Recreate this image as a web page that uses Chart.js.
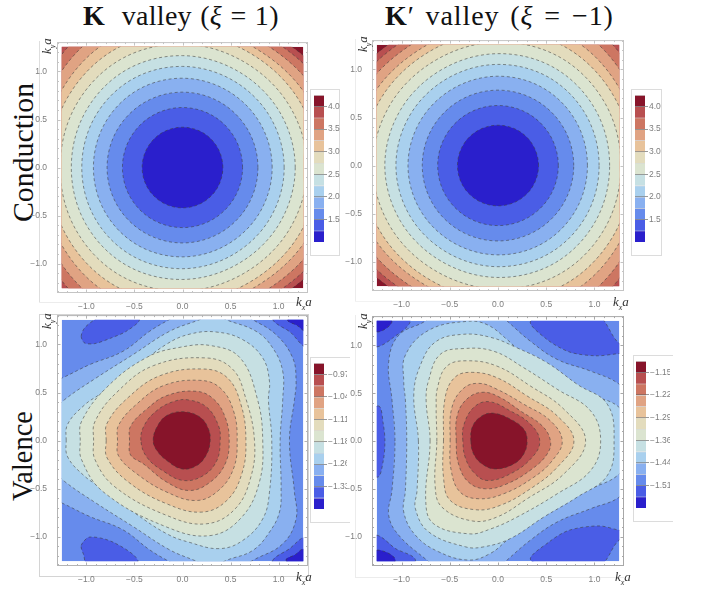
<!DOCTYPE html>
<html>
<head>
<meta charset="utf-8">
<style>
html, body { margin: 0; padding: 0; background: #fff; }
#page { position: relative; width: 705px; height: 589px; overflow: hidden; background: #fff; }
#page canvas { position: absolute; filter: blur(0.4px); }
.title { position: absolute; font-family: "Liberation Serif", serif; font-size: 28px; color: #111; white-space: nowrap; line-height: 30px; }
.side { position: absolute; font-family: "Liberation Serif", serif; color: #111; white-space: nowrap; line-height: 30px; transform-origin: 0 0; transform: rotate(-90deg); }
.axis { position: absolute; font-family: "Liberation Serif", serif; font-style: italic; font-size: 13px; color: #333; white-space: nowrap; line-height: 12px; }
.axis sub { font-size: 8px; line-height: 0; }
.rotated { transform-origin: 0 0; transform: rotate(-90deg); }
.edge { position: absolute; }
.box { position: absolute; border: 1px solid #dcdcdc; box-sizing: border-box; }
</style>
</head>
<body>
<div id="page">
  <div class="title" style="left:83px;top:1px;letter-spacing:0.3px;word-spacing:1px"><b>K</b>&nbsp; valley (<i>ξ</i> = 1)</div>
  <div class="title" style="left:385px;top:1px;letter-spacing:0.9px;word-spacing:3px"><b>K</b>′ valley (<i>ξ</i> = −1)</div>
  <div class="side" style="left:8px;top:222px;font-size:29.8px">Conduction</div>
  <div class="side" style="left:8px;top:501px;font-size:28.4px">Valence</div>

  <div class="edge" style="left:39px;top:41px;width:1px;height:262px;background:#dedede"></div>
  <div class="edge" style="left:39px;top:302px;width:262px;height:1px;background:#ececec"></div>
  <div class="edge" style="left:355px;top:39px;width:1px;height:262px;background:#ececec"></div>
  <div class="edge" style="left:355px;top:301px;width:262px;height:1px;background:#f2f2f2"></div>
  <div class="edge" style="left:39px;top:314px;width:270px;height:263px;border:1px solid #d4d4d4;box-sizing:border-box"></div>
  <div class="edge" style="left:355px;top:315px;width:1px;height:262px;background:#ececec"></div>
  <div class="edge" style="left:355px;top:577px;width:269px;height:1px;background:#ececec"></div>

  <div class="box" style="left:310px;top:89px;width:30px;height:167px"></div>
  <div class="box" style="left:631px;top:89px;width:31px;height:167px"></div>
  <div class="box" style="left:310px;top:357px;width:40px;height:166px;border-right:0"></div>
  <div class="box" style="left:633px;top:355px;width:40px;height:167px;border-right:0"></div>

  <canvas id="condK" style="left:17px;top:35px" width="299" height="278"></canvas>
  <canvas id="condKp" style="left:332px;top:33px" width="300" height="278"></canvas>
  <canvas id="valK" style="left:17px;top:308px" width="299" height="278"></canvas>
  <canvas id="valKp" style="left:332px;top:309px" width="300" height="277"></canvas>

  <canvas id="barCondK" style="left:310px;top:89px" width="30" height="167"></canvas>
  <canvas id="barCondKp" style="left:631px;top:89px" width="31" height="167"></canvas>
  <canvas id="barValK" style="left:310px;top:357px" width="37" height="166"></canvas>
  <canvas id="barValKp" style="left:633px;top:355px" width="37" height="167"></canvas>

  <div class="axis" style="left:296px;top:296px">k<sub>x</sub>a</div>
  <div class="axis" style="left:613px;top:296px">k<sub>x</sub>a</div>
  <div class="axis" style="left:296px;top:571px">k<sub>x</sub>a</div>
  <div class="axis" style="left:615px;top:571px">k<sub>x</sub>a</div>
  <div class="axis rotated" style="left:41px;top:54px">k<sub>y</sub>a</div>
  <div class="axis rotated" style="left:357px;top:52px">k<sub>y</sub>a</div>
  <div class="axis rotated" style="left:41px;top:329px">k<sub>y</sub>a</div>
  <div class="axis rotated" style="left:357px;top:329px">k<sub>y</sub>a</div>
</div>

<script src="https://cdn.jsdelivr.net/npm/chart.js@4/dist/chart.umd.js"></script>
<script>
// colour bands, from the top of the colour bar down to the bottom
const bandColors = ['#87142a', '#b84f50', '#cd7662', '#e0a383', '#e8c39b', '#e3dcbd', '#dbe4d0',
    '#c6e0e3', '#a9d0ee', '#89b0f0', '#668bec', '#4a5de6', '#2a1fcc'];

const axisRange = 1.306;
const dataEdge = 1.257;
const majorTicks = [-1, -0.5, 0, 0.5, 1];
const majorLabels = ['−1.0', '−0.5', '0.0', '0.5', '1.0'];
const minorTicks = [-1.3, -1.2, -1.1, -0.9, -0.8, -0.7, -0.6, -0.4, -0.3, -0.2, -0.1,
    0.1, 0.2, 0.3, 0.4, 0.6, 0.7, 0.8, 0.9, 1.1, 1.2, 1.3];

// conduction band: contour radius at each angle, innermost contour first
const angleDeg = [0, 30, 60, 90, 120, 150, 180, 210, 240, 270, 300, 330];
const condKRadii = [
    [0.42, 0.42, 0.42, 0.42, 0.42, 0.42, 0.42, 0.42, 0.42, 0.42, 0.42, 0.42],
    [0.625, 0.625, 0.625, 0.625, 0.625, 0.625, 0.625, 0.625, 0.625, 0.625, 0.625, 0.625],
    [0.785, 0.785, 0.785, 0.785, 0.785, 0.785, 0.785, 0.785, 0.785, 0.785, 0.785, 0.785],
    [0.933, 0.93, 0.927, 0.93, 0.933, 0.93, 0.927, 0.93, 0.933, 0.93, 0.927, 0.93],
    [1.058, 1.053, 1.048, 1.053, 1.058, 1.053, 1.048, 1.053, 1.058, 1.053, 1.048, 1.053],
    [1.173, 1.165, 1.157, 1.165, 1.173, 1.165, 1.157, 1.165, 1.173, 1.165, 1.157, 1.165],
    [1.297, 1.285, 1.273, 1.285, 1.297, 1.285, 1.273, 1.285, 1.297, 1.285, 1.273, 1.285],
    [1.417, 1.4, 1.383, 1.4, 1.417, 1.4, 1.383, 1.4, 1.417, 1.4, 1.383, 1.4],
    [1.525, 1.49, 1.455, 1.49, 1.525, 1.49, 1.455, 1.49, 1.525, 1.49, 1.455, 1.49],
    [1.644, 1.594, 1.544, 1.594, 1.644, 1.594, 1.544, 1.594, 1.644, 1.594, 1.544, 1.594],
    [1.755, 1.688, 1.621, 1.688, 1.755, 1.688, 1.621, 1.688, 1.755, 1.688, 1.621, 1.688],
    [1.845, 1.76, 1.675, 1.76, 1.845, 1.76, 1.675, 1.76, 1.845, 1.76, 1.675, 1.76],
];
const condKpRadii = [
    [0.42, 0.42, 0.42, 0.42, 0.42, 0.42, 0.42, 0.42, 0.42, 0.42, 0.42, 0.42],
    [0.625, 0.625, 0.625, 0.625, 0.625, 0.625, 0.625, 0.625, 0.625, 0.625, 0.625, 0.625],
    [0.785, 0.785, 0.785, 0.785, 0.785, 0.785, 0.785, 0.785, 0.785, 0.785, 0.785, 0.785],
    [0.927, 0.93, 0.933, 0.93, 0.927, 0.93, 0.933, 0.93, 0.927, 0.93, 0.933, 0.93],
    [1.048, 1.053, 1.058, 1.053, 1.048, 1.053, 1.058, 1.053, 1.048, 1.053, 1.058, 1.053],
    [1.157, 1.165, 1.173, 1.165, 1.157, 1.165, 1.173, 1.165, 1.157, 1.165, 1.173, 1.165],
    [1.273, 1.285, 1.297, 1.285, 1.273, 1.285, 1.297, 1.285, 1.273, 1.285, 1.297, 1.285],
    [1.383, 1.4, 1.417, 1.4, 1.383, 1.4, 1.417, 1.4, 1.383, 1.4, 1.417, 1.4],
    [1.455, 1.49, 1.525, 1.49, 1.455, 1.49, 1.525, 1.49, 1.455, 1.49, 1.525, 1.49],
    [1.544, 1.594, 1.644, 1.594, 1.544, 1.594, 1.644, 1.594, 1.544, 1.594, 1.644, 1.594],
    [1.621, 1.688, 1.755, 1.688, 1.621, 1.688, 1.755, 1.688, 1.621, 1.688, 1.755, 1.688],
    [1.675, 1.76, 1.845, 1.76, 1.675, 1.76, 1.845, 1.76, 1.675, 1.76, 1.845, 1.76],
];

// valence band, K valley: contours as [kx, ky], innermost first. Points past the frame get clipped.
const valKContours = [
    [[-0.305, 0], [-0.267, 0.139], [-0.163, 0.26], [0.01, 0.3], [0.184, 0.243], [0.27, 0.121], [0.288, 0], [0.253, -0.139], [0.149, -0.26], [-0.007, -0.295], [-0.163, -0.208], [-0.267, -0.104]],
    [[-0.433, 0], [-0.399, 0.156], [-0.267, 0.312], [-0.094, 0.406], [0.062, 0.423], [0.253, 0.347], [0.374, 0.156], [0.392, 0], [0.357, -0.208], [0.218, -0.364], [0.01, -0.416], [-0.198, -0.319], [-0.371, -0.173]],
    [[-0.551, 0], [-0.54, 0.15], [-0.371, 0.329], [-0.163, 0.468], [0.142, 0.513], [0.322, 0.433], [0.444, 0.243], [0.486, 0], [0.444, -0.243], [0.288, -0.433], [0.073, -0.52], [-0.163, -0.433], [-0.406, -0.243], [-0.54, -0.15]],
    [[-0.676, 0], [-0.665, 0.16], [-0.475, 0.381], [-0.198, 0.572], [0.177, 0.627], [0.392, 0.548], [0.53, 0.312], [0.569, 0], [0.53, -0.295], [0.374, -0.52], [0.149, -0.624], [-0.163, -0.537], [-0.475, -0.347], [-0.665, -0.16]],
    [[-0.794, 0], [-0.785, 0.18], [-0.562, 0.451], [-0.232, 0.676], [0.211, 0.745], [0.461, 0.659], [0.607, 0.381], [0.66, 0], [0.617, -0.347], [0.461, -0.624], [0.201, -0.745], [-0.163, -0.659], [-0.562, -0.433], [-0.785, -0.18]],
    [[-0.925, 0], [-0.91, 0.2], [-0.683, 0.503], [-0.302, 0.78], [0.246, 0.86], [0.52, 0.745], [0.655, 0.451], [0.749, 0], [0.711, -0.381], [0.548, -0.711], [0.246, -0.867], [-0.163, -0.78], [-0.7, -0.485], [-0.91, -0.2]],
    [[-1.064, 0], [-1.05, 0.2], [-0.787, 0.555], [-0.371, 0.866], [-0.024, 0.971], [0.298, 0.988], [0.6, 0.86], [0.78, 0.43], [0.835, 0], [0.8, -0.433], [0.617, -0.797], [0.298, -0.988], [-0.163, -0.901], [-0.821, -0.537], [-1.05, -0.2]],
    [[-1.21, 0], [-1.195, 0.17], [-1.02, 0.37], [-0.856, 0.485], [-0.51, 0.745], [-0.163, 1.005], [0.08, 1.109], [0.35, 1.13], [0.627, 1.05], [0.835, 0.86], [0.905, 0.617], [0.894, 0.426], [0.929, 0], [0.905, -0.537], [0.835, -0.815], [0.627, -1.04], [0.385, -1.125], [0.073, -1.06], [-0.163, -0.971], [-0.51, -0.745], [-0.856, -0.485], [-1.02, -0.37], [-1.195, -0.17]],
    [[-1.42, 0], [-1.3, 0.34], [-1.227, 0.426], [-0.898, 0.652], [-0.516, 0.894], [-0.135, 1.137], [0.177, 1.258], [0.32, 1.32], [0.454, 1.258], [0.766, 1.137], [0.939, 0.964], [1.043, 0.721], [1.043, 0.426], [1.016, 0], [1.026, -0.503], [1.009, -0.745], [0.905, -0.953], [0.731, -1.144], [0.454, -1.248], [0.3, -1.32], [0.125, -1.248], [-0.135, -1.137], [-0.516, -0.894], [-0.898, -0.652], [-1.227, -0.426], [-1.3, -0.34]],
    [[-1.6, 0], [-1.5, 0.55], [-1.251, 0.652], [-0.967, 0.79], [-0.62, 0.929], [-0.343, 1.137], [-0.153, 1.251], [0.3, 1.5], [0.731, 1.258], [0.974, 1.102], [1.147, 0.86], [1.182, 0.617], [1.165, 0.426], [1.113, 0], [1.165, -0.537], [1.182, -0.815], [1.043, -1.075], [0.731, -1.248], [0.3, -1.5], [-0.153, -1.251], [-0.343, -1.137], [-0.62, -0.929], [-0.967, -0.79], [-1.251, -0.652], [-1.5, -0.55]],
];
// dark pockets: bandColors index, then the contour
const valKPocketBands = [12, 12, 11, 11, 11, 11];
const valKPockets = [
    [[1.095, 1.258], [1.19, 1.2], [1.3, 1.13], [1.6, 1.3], [1.4, 1.6]],
    [[1.078, -1.248], [1.17, -1.19], [1.269, -1.127], [1.6, -1.3], [1.4, -1.6]],
    [[0.939, 1.258], [1.12, 1.13], [1.3, 0.96], [1.6, 1.0], [1.6, 1.6], [0.85, 1.6]],
    [[0.939, -1.248], [1.113, -1.127], [1.269, -1.005], [1.6, -1.0], [1.6, -1.6], [0.85, -1.6]],
    [[-1.054, 1.085], [-1.019, 1.172], [-0.915, 1.258], [-0.75, 1.35], [-0.55, 1.35], [-0.447, 1.258], [-0.586, 1.137], [-0.742, 1.068], [-0.915, 1.009], [-1.019, 1.016]],
    [[-1.054, -1.092], [-0.967, -1.005], [-0.724, -1.057], [-0.464, -1.248], [-0.6, -1.4], [-0.984, -1.32], [-1.03, -1.185]],
];

// valence band, K' valley
const valKpContours = [
    [[-0.281, 0], [-0.263, 0.156], [-0.166, 0.263], [-0.045, 0.291], [0.128, 0.229], [0.267, 0.125], [0.302, 0], [0.267, -0.135], [0.163, -0.239], [-0.028, -0.291], [-0.166, -0.239], [-0.253, -0.135]],
    [[-0.364, 0], [-0.357, 0.159], [-0.253, 0.35], [-0.097, 0.412], [0.128, 0.315], [0.336, 0.177], [0.433, 0], [0.354, -0.17], [0.128, -0.343], [-0.114, -0.412], [-0.253, -0.326], [-0.34, -0.17]],
    [[-0.433, 0], [-0.419, 0.281], [-0.305, 0.454], [-0.146, 0.51], [0.024, 0.454], [0.232, 0.315], [0.458, 0.159], [0.544, 0], [0.51, -0.135], [0.354, -0.291], [0.094, -0.447], [-0.128, -0.499], [-0.305, -0.43], [-0.409, -0.239]],
    [[-0.496, 0], [-0.478, 0.35], [-0.357, 0.551], [-0.198, 0.603], [-0.01, 0.541], [0.267, 0.385], [0.544, 0.211], [0.666, 0], [0.562, -0.205], [0.371, -0.378], [0.059, -0.551], [-0.198, -0.603], [-0.392, -0.534], [-0.485, -0.308]],
    [[-0.565, 0], [-0.548, 0.454], [-0.444, 0.669], [-0.267, 0.718], [-0.01, 0.662], [0.302, 0.471], [0.614, 0.263], [0.787, 0], [0.614, -0.274], [0.336, -0.499], [0.024, -0.672], [-0.232, -0.718], [-0.496, -0.62], [-0.565, -0.378]],
    [[-0.634, 0], [-0.641, 0.35], [-0.627, 0.558], [-0.53, 0.783], [-0.319, 0.839], [-0.01, 0.783], [0.336, 0.575], [0.683, 0.333], [0.908, 0], [0.683, -0.343], [0.302, -0.603], [-0.01, -0.794], [-0.267, -0.835], [-0.582, -0.69], [-0.652, -0.464]],
    [[-0.704, 0], [-0.745, 0.419], [-0.721, 0.627], [-0.6, 0.905], [-0.354, 0.967], [-0.045, 0.939], [0.267, 0.766], [0.614, 0.541], [0.96, 0.315], [1.064, 0], [0.96, -0.308], [0.614, -0.551], [0.198, -0.794], [-0.08, -0.92], [-0.3, -0.97], [-0.669, -0.863], [-0.749, -0.62]],
    [[-0.825, 0], [-0.873, 0.482], [-0.804, 0.794], [-0.648, 1.036], [-0.371, 1.115], [-0.08, 1.085], [0.198, 0.974], [0.51, 0.818], [0.821, 0.593], [1.133, 0.385], [1.203, 0], [1.133, -0.36], [0.821, -0.586], [0.475, -0.794], [0.128, -1.019], [-0.149, -1.106], [-0.336, -1.106], [-0.718, -0.95], [-0.856, -0.707], [-0.839, -0.516]],
    [[-0.946, 0], [-0.96, 0.43], [-0.977, 0.62], [-0.96, 0.898], [-0.718, 1.158], [-0.319, 1.251], [-0.114, 1.217], [0.094, 1.061], [0.302, 0.87], [0.614, 0.679], [0.96, 0.489], [1.258, 0.35], [1.5, 0], [1.258, -0.343], [0.96, -0.499], [0.614, -0.655], [0.302, -0.863], [0.094, -1.036], [-0.08, -1.175], [-0.302, -1.244], [-0.614, -1.158], [-0.856, -0.984], [-0.977, -0.742], [-0.96, -0.516]],
    [[-1.068, 0], [-1.099, 0.43], [-1.133, 0.828], [-1.029, 1.106], [-0.752, 1.255], [-0.3, 1.6], [0.094, 1.255], [0.336, 1.043], [0.614, 0.853], [0.96, 0.731], [1.258, 0.593], [1.55, 0.3], [1.55, -0.3], [1.258, -0.586], [0.96, -0.707], [0.614, -0.846], [0.336, -1.036], [0.094, -1.244], [-0.3, -1.6], [-0.738, -1.244], [-1.029, -0.984], [-1.133, -0.776], [-1.099, -0.516]],
];
const valKpPocketBands = [12, 12, 11, 11, 11, 11, 11];
const valKpPockets = [
    [[-1.255, 1.14], [-1.099, 1.255], [-1.3, 1.6], [-1.6, 1.3]],
    [[-1.255, -1.14], [-1.064, -1.244], [-1.3, -1.6], [-1.6, -1.3]],
    [[-1.255, 0.984], [-1.099, 1.071], [-0.908, 1.255], [-1.0, 1.6], [-1.6, 1.6], [-1.6, 1.0]],
    [[-1.255, -0.984], [-1.064, -1.123], [-0.856, -1.244], [-1.0, -1.6], [-1.6, -1.6], [-1.6, -1.0]],
    [[-1.241, 0.367], [-1.189, 0.177], [-1.172, 0], [-1.189, -0.204], [-1.251, -0.378], [-1.6, -0.2], [-1.6, 0.2]],
    [[0.34, 1.255], [0.496, 1.071], [0.738, 0.932], [1.016, 0.891], [1.258, 0.915], [1.515, 0.94], [1.258, 1.019], [1.102, 1.255], [0.89, 1.53]],
    [[0.34, -1.244], [0.53, -1.054], [0.738, -0.932], [1.05, -0.887], [1.258, -0.932], [1.515, -0.967], [1.258, -1.035], [1.12, -1.244], [0.89, -1.53]],
];

// colour bars: band edges top to bottom, ticks and their printed labels
const condEdges = [4.25, 4, 3.75, 3.5, 3.25, 3, 2.75, 2.5, 2.25, 2, 1.75, 1.5, 1.25, 1];
const condTicks = [4, 3.5, 3, 2.5, 2, 1.5];
const condLabels = ['4.0', '3.5', '3.0', '2.5', '2.0', '1.5'];
const valKEdges = [-0.934, -0.97, -1.006, -1.042, -1.078, -1.114, -1.15, -1.186, -1.222, -1.258, -1.294, -1.33, -1.366, -1.402];
const valKTicks = [-0.97, -1.042, -1.114, -1.186, -1.258, -1.33];
const valKLabels = ['−0.97', '−1.04', '−1.11', '−1.18', '−1.26', '−1.33'];
const valKpEdges = [-1.114, -1.15, -1.186, -1.222, -1.258, -1.294, -1.33, -1.366, -1.402, -1.438, -1.474, -1.51, -1.546, -1.582];
const valKpTicks = [-1.15, -1.222, -1.294, -1.366, -1.438, -1.51];
const valKpLabels = ['−1.15', '−1.22', '−1.29', '−1.36', '−1.44', '−1.51'];

const FONT = { family: "'Liberation Sans', Arial, sans-serif", size: 8.5 };
const LABEL_GRAY = '#7d7d7d';

function radiiToPoints(radii) {
    return radii.map((r, i) => {
        const t = angleDeg[i] * Math.PI / 180;
        return [r * Math.cos(t), r * Math.sin(t)];
    });
}

function contourDataset(points, color, tension) {
    // wrap one point either side so the spline has no kink where the contour closes;
    // the two wrapped segments stay unstroked
    const n = points.length;
    const wrapped = [points[n - 1], ...points, points[0], points[1]];
    return {
        data: wrapped.map(([x, y]) => ({ x, y })),
        showLine: true,
        pointRadius: 0,
        fill: 'shape',
        backgroundColor: color,
        borderColor: 'rgba(60,60,60,0.62)',
        borderWidth: 0.9,
        borderDash: [3, 2.6],
        tension: tension,
        capBezierPoints: false,
        segment: {
            borderColor: (ctx) => ((ctx.p0DataIndex === 0 || ctx.p0DataIndex === n + 1) ? 'rgba(0,0,0,0)' : undefined),
        },
    };
}

/**
 * One contour panel. datasets are painted back to front from the last one,
 * so the first dataset ends up on top.
 */
function drawPanel(id, datasets, baseColor, frameColor) {
    const panelPlugin = {
        id: 'panelFrame',
        beforeDatasetsDraw(chart) {
            const { ctx, scales } = chart;
            const left = scales.x.getPixelForValue(-dataEdge);
            const right = scales.x.getPixelForValue(dataEdge);
            const top = scales.y.getPixelForValue(dataEdge);
            const bottom = scales.y.getPixelForValue(-dataEdge);
            ctx.save();
            ctx.beginPath();
            ctx.rect(left, top, right - left, bottom - top);
            ctx.clip();
            ctx.fillStyle = baseColor;
            ctx.fillRect(left, top, right - left, bottom - top);
        },
        afterDatasetsDraw(chart) {
            chart.ctx.restore();
        },
        afterDraw(chart) {
            const { ctx, scales, chartArea: a } = chart;
            ctx.save();
            ctx.strokeStyle = frameColor;
            ctx.lineWidth = 1;
            ctx.strokeRect(a.left + 0.5, a.top + 0.5, a.right - a.left - 1, a.bottom - a.top - 1);
            // inward ticks on all four sides
            const drawTicks = (values, len) => {
                ctx.beginPath();
                values.forEach((v) => {
                    const x = Math.round(scales.x.getPixelForValue(v)) + 0.5;
                    const y = Math.round(scales.y.getPixelForValue(v)) + 0.5;
                    ctx.moveTo(x, a.top); ctx.lineTo(x, a.top + len);
                    ctx.moveTo(x, a.bottom); ctx.lineTo(x, a.bottom - len);
                    ctx.moveTo(a.left, y); ctx.lineTo(a.left + len, y);
                    ctx.moveTo(a.right, y); ctx.lineTo(a.right - len, y);
                });
                ctx.stroke();
            };
            drawTicks(majorTicks, 3.5);
            drawTicks(minorTicks, 2);
            ctx.restore();
        },
    };

    const axis = (afterFit, padding) => ({
        type: 'linear',
        min: -axisRange,
        max: axisRange,
        afterBuildTicks: (scale) => { scale.ticks = majorTicks.map((value) => ({ value })); },
        afterFit,
        grid: { display: false },
        border: { display: false },
        ticks: {
            autoSkip: false,
            maxRotation: 0,
            padding,
            font: FONT,
            color: LABEL_GRAY,
            callback: (value, index) => majorLabels[index],
        },
    });

    return new Chart(document.getElementById(id), {
        type: 'scatter',
        data: { datasets },
        options: {
            responsive: false,
            animation: false,
            layout: { padding: { top: 6, right: 8, left: 0, bottom: 0 } },
            plugins: { legend: { display: false }, tooltip: { enabled: false } },
            scales: {
                x: axis((scale) => { scale.height = 20; }, 1),
                y: axis((scale) => { scale.width = 40; }, 2),
            },
        },
        plugins: [panelPlugin],
    });
}

function drawColorBar(id, edges, tickValues, labels, leftPad, topPad) {
    const datasets = bandColors.map((color, i) => ({
        data: [[edges[i + 1], edges[i]]],
        backgroundColor: color,
        borderColor: 'rgba(110,110,110,0.28)',
        borderWidth: { top: 1, bottom: 0, left: 0, right: 0 },
        borderSkipped: false,
        grouped: false,
        barPercentage: 1,
        categoryPercentage: 1,
    }));
    const canvas = document.getElementById(id);
    return new Chart(canvas, {
        type: 'bar',
        data: { labels: [''], datasets },
        options: {
            responsive: false,
            animation: false,
            layout: { padding: { top: topPad, bottom: 14, left: leftPad, right: 0 } },
            plugins: { legend: { display: false }, tooltip: { enabled: false } },
            scales: {
                x: { display: false },
                y: {
                    position: 'right',
                    min: edges[edges.length - 1],
                    max: edges[0],
                    afterBuildTicks: (scale) => { scale.ticks = tickValues.map((value) => ({ value })); },
                    afterFit: (scale) => { scale.width = canvas.width - leftPad - 10; },
                    grid: { z: 1, color: 'rgba(90,90,90,0.5)', tickColor: '#9a9a9a', tickLength: 3 },
                    border: { display: false },
                    ticks: {
                        autoSkip: false,
                        padding: 1,
                        font: FONT,
                        color: LABEL_GRAY,
                        callback: (value, index) => labels[index],
                    },
                },
            },
        },
    });
}

function condDatasets(table) {
    // innermost contour holds the bottom band of the colour bar
    return table.map((radii, i) => contourDataset(radiiToPoints(radii), bandColors[12 - i], 0.35));
}

function valDatasets(contours, pockets, pocketBands) {
    const top = pockets.map((points, i) => contourDataset(points, bandColors[pocketBands[i]], 0.3));
    const rings = contours.map((points, i) => contourDataset(points, bandColors[i], 0.4));
    return top.concat(rings);
}

drawPanel('condK', condDatasets(condKRadii), bandColors[0], '#c4c4c4');
drawPanel('condKp', condDatasets(condKpRadii), bandColors[0], '#c4c4c4');
drawPanel('valK', valDatasets(valKContours, valKPockets, valKPocketBands), bandColors[10], '#b4b4b4');
drawPanel('valKp', valDatasets(valKpContours, valKpPockets, valKpPocketBands), bandColors[10], '#a8a8a8');

drawColorBar('barCondK', condEdges, condTicks, condLabels, 4, 3);
drawColorBar('barCondKp', condEdges, condTicks, condLabels, 4, 3);
drawColorBar('barValK', valKEdges, valKTicks, valKLabels, 4, 3);
drawColorBar('barValKp', valKpEdges, valKpTicks, valKpLabels, 3, 4);
</script>
</body>
</html>
